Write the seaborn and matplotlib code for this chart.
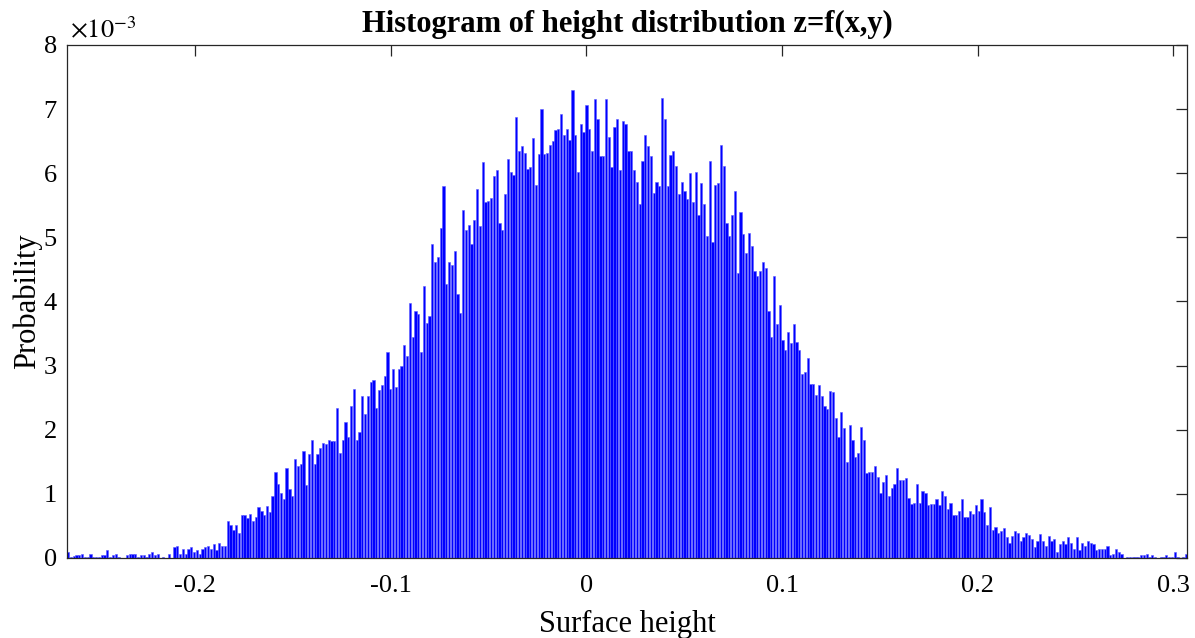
import numpy as np
import pandas as pd
import matplotlib
matplotlib.use("Agg")
import matplotlib.pyplot as plt
import seaborn as sns

# ---------------- data (probability, in units of 1e-3) ----------------
BIN_LO = -0.2657
BIN_HI = 0.3072

left_tail = [0.09, 0.01, 0.03, 0.04, 0.04, 0.07, 0.02, 0.02, 0.07, 0.02,
             0.02, 0.02, 0.04, 0.04, 0.12, 0.02, 0.04, 0.07, 0.02, 0.00,
             0.00, 0.04, 0.07, 0.07, 0.07, 0.02, 0.04, 0.04, 0.02, 0.07,
             0.09, 0.04, 0.07, 0.00, 0.02, 0.00, 0.07, 0.00, 0.17, 0.19,
             0.07, 0.14, 0.07, 0.14, 0.17, 0.09, 0.12, 0.07, 0.14, 0.17,
             0.19, 0.14, 0.22, 0.12, 0.24, 0.19, 0.19]
rising = [0.57, 0.51, 0.44, 0.51, 0.39, 0.67, 0.67, 0.62, 0.69, 0.57,
          0.64, 0.79, 0.74, 0.67, 0.81, 0.71, 0.97, 1.34, 1.16, 1.01,
          0.92, 1.41, 1.07, 0.97, 1.54, 1.44, 1.47, 1.67, 1.14, 1.62,
          1.84, 1.47, 1.62, 1.72, 1.79, 1.77, 1.84, 1.82, 1.82, 2.34,
          1.64, 1.84, 2.12, 1.89, 2.37, 2.64, 1.84, 1.97, 2.52, 2.24,
          2.52, 2.74, 2.77, 2.34, 2.62, 2.69, 2.84]
upper_left = [3.22, 2.64, 2.94, 2.67, 2.94, 3.00, 3.32, 3.15, 3.97, 3.45,
              3.85, 3.80, 3.22, 4.24, 3.67, 3.77, 4.90, 4.62, 4.70, 5.15,
              5.80, 4.27, 4.62, 4.57, 4.79, 4.12, 3.82, 5.42, 5.12, 5.19,
              4.90, 5.27, 5.75, 5.17, 6.17, 5.55, 5.57, 5.62, 5.95, 6.05,
              5.22, 5.12, 5.67, 6.22, 6.02, 5.97, 6.87, 6.35, 6.42, 6.32,
              6.07, 6.10, 6.55, 5.82, 6.30, 7.00, 6.30, 6.32]
center = [6.44, 6.50, 6.67, 6.69, 6.92, 6.59, 6.69, 6.52, 7.30, 6.59,
          6.02, 6.77, 6.65, 7.07, 6.69, 6.34, 7.15, 6.84, 6.27, 6.27,
          7.15, 6.57, 6.09, 6.72, 6.84, 6.05, 6.82, 6.77, 6.34, 6.34,
          6.05, 5.87, 5.52, 6.19, 6.59, 6.42, 6.27, 5.69, 5.87, 5.80,
          7.17, 6.84, 5.80, 6.29, 6.34, 6.12, 5.67, 5.87, 5.72, 5.60,
          6.00, 5.55, 6.02, 5.35, 5.85, 5.52, 5.02]
falling = [6.19, 4.92, 5.82, 5.85, 6.44, 6.12, 5.22, 5.02, 5.35, 5.72,
           4.45, 5.40, 5.05, 4.75, 5.07, 4.87, 4.47, 4.40, 4.47, 4.62,
           4.52, 3.85, 3.45, 4.40, 3.65, 3.95, 3.40, 3.24, 3.52, 3.35,
           3.65, 3.37, 3.24, 2.87, 2.90, 3.12, 2.72, 2.72, 2.54, 2.69,
           2.52, 2.37, 2.32, 2.61, 2.59, 2.19, 1.89, 2.27, 2.02, 1.49,
           2.07, 1.84, 1.57, 1.64, 2.04, 1.84, 1.32]
lower_right = [1.34, 1.34, 1.44, 1.27, 1.01, 1.19, 1.29, 0.97, 1.09, 1.16,
               1.41, 1.22, 1.22, 1.24, 0.94, 0.84, 0.86, 1.16, 0.86, 1.04,
               1.01, 0.82, 0.84, 0.84, 0.92, 0.82, 1.04, 0.97, 0.76, 0.86,
               0.67, 0.67, 0.74, 0.92, 0.64, 0.64, 0.74, 0.69, 0.82, 0.74,
               0.92, 0.71, 0.51, 0.79, 0.44, 0.49, 0.39, 0.42, 0.46, 0.32,
               0.24, 0.34, 0.42, 0.39, 0.27, 0.32, 0.39, 0.36]
right_tail = [0.29, 0.17, 0.27, 0.37, 0.27, 0.19, 0.34, 0.27, 0.29, 0.09,
              0.22, 0.27, 0.22, 0.32, 0.24, 0.14, 0.32, 0.12, 0.24, 0.19,
              0.27, 0.24, 0.22, 0.12, 0.14, 0.14, 0.14, 0.19, 0.04, 0.07,
              0.14, 0.09, 0.07, 0.00, 0.02, 0.02, 0.02, 0.02, 0.02, 0.04,
              0.04, 0.07, 0.02, 0.04, 0.02, 0.00, 0.02, 0.02, 0.04, 0.02,
              0.02, 0.09, 0.02, 0.00, 0.02, 0.07]

XTICKS = [-0.2, -0.1, 0.0, 0.1, 0.2, 0.3]
XTICK_LABELS = ["-0.2", "-0.1", "0", "0.1", "0.2", "0.3"]
YTICKS = [0, 1, 2, 3, 4, 5, 6, 7, 8]
YTICK_LABELS = ["0", "1", "2", "3", "4", "5", "6", "7", "8"]

TITLE = "Histogram of height distribution z=f(x,y)"
XLABEL = "Surface height"
YLABEL = "Probability"
EXPONENT = r"$\times10^{-3}$"

# ---------------- build table ----------------
probs = left_tail + rising + upper_left + center + falling + lower_right + right_tail
n_bins = len(probs)
edges = np.linspace(BIN_LO, BIN_HI, n_bins + 1)
centers = 0.5 * (edges[:-1] + edges[1:])
df = pd.DataFrame({"height": centers, "prob": probs})

# ---------------- style ----------------
sns.set_theme(style="white")
plt.rcParams["font.family"] = ["Liberation Serif", "DejaVu Serif"]
plt.rcParams["mathtext.fontset"] = "stix"
plt.rcParams["text.color"] = "black"
plt.rcParams["axes.labelcolor"] = "black"
AX_COLOR = "#262626"

fig = plt.figure(figsize=(11.95, 6.38), dpi=100)
ax = fig.add_axes([0.0558, 0.1254, 0.9378, 0.8041])

sns.histplot(data=df, x="height", weights="prob", bins=n_bins,
             binrange=(BIN_LO, BIN_HI), shrink=0.8,
             color="#0000ff", edgecolor="#5c5cff", linewidth=0.4, alpha=1.0,
             ax=ax)

ax.set_xlim(BIN_LO, BIN_HI)
ax.set_ylim(0, 8)
ax.set_xticks(XTICKS)
ax.set_xticklabels(XTICK_LABELS)
ax.set_yticks(YTICKS)
ax.set_yticklabels(YTICK_LABELS)
ax.tick_params(direction="in", length=8, width=0.9, top=True, right=True,
               labelsize=19, color=AX_COLOR, labelcolor="black")
ax.tick_params(axis="x", pad=12.5)
ax.tick_params(axis="y", pad=7)
for s in ax.spines.values():
    s.set_visible(True)
    s.set_color(AX_COLOR)
    s.set_linewidth(0.9)

ax.set_xlabel(XLABEL, fontsize=22, labelpad=9, color="black")
ax.set_ylabel(YLABEL, fontsize=22, labelpad=1, color="black")
ax.set_title(TITLE, fontsize=22, fontweight="bold", pad=9, color="black")
ax.text(0.003, 1.004, EXPONENT, transform=ax.transAxes, fontsize=19,
        ha="left", va="bottom", color="black")

fig.savefig("out.png", dpi=100)
